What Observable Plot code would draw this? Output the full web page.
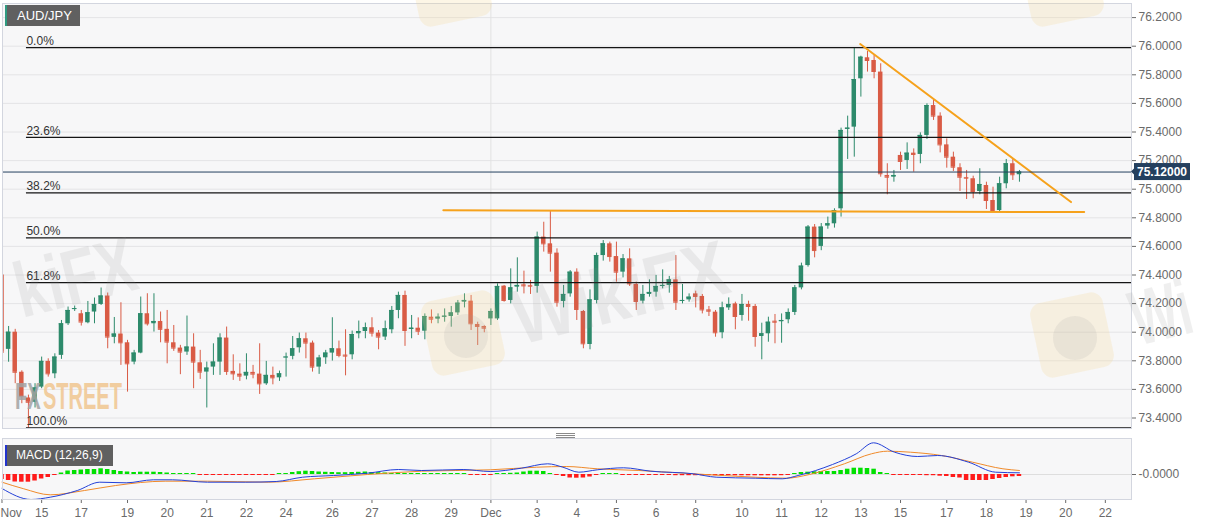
<!DOCTYPE html>
<html><head><meta charset="utf-8">
<script src="https://cdn.jsdelivr.net/npm/d3@7"></script>
<script src="https://cdn.jsdelivr.net/npm/@observablehq/plot@0.6"></script>
<style>
body{margin:0;background:#fff;font-family:"Liberation Sans",Arial,sans-serif;}
#wrap{position:relative;width:1207px;height:526px;overflow:hidden;background:#fff;}
#wrap > svg, #wrap > figure{display:block;margin:0;}
.tag{position:absolute;background:#606060;color:#fff;font-size:13px;height:21px;line-height:21px;box-sizing:border-box;}
#over{position:absolute;left:0;top:0;pointer-events:none;}
</style></head><body><div id="wrap"></div>
<script>
// ---------------- DATA (4-hour candles, AUD/JPY) ----------------
const opens = [74.40,73.88,74.00,73.72,73.54,73.51,73.616,73.796,73.709,73.838,
74.059,74.160,74.129,74.066,74.141,74.194,74.253,73.964,73.987,73.926,
73.791,73.854,74.129,74.059,74.075,74.020,73.926,73.889,73.861,73.896,
73.786,73.721,73.756,73.791,73.959,73.726,73.707,73.693,73.719,73.707,
73.639,73.698,73.681,73.822,73.831,73.891,73.954,73.924,73.756,73.821,
73.854,73.884,73.840,73.842,73.989,74.005,74.031,73.994,73.966,74.017,
74.152,74.257,74.019,74.028,74.007,74.105,74.091,74.105,74.110,74.135,
74.210,74.217,74.054,74.040,74.093,74.093,74.322,74.222,74.315,74.331,
74.327,74.320,74.665,74.618,74.553,74.215,74.268,74.420,74.145,73.914,
74.222,74.536,74.618,74.529,74.420,74.513,74.334,74.217,74.264,74.280,
74.320,74.327,74.366,74.215,74.226,74.268,74.250,74.156,74.140,73.996,
74.170,74.198,74.117,74.194,74.180,73.970,73.989,74.077,74.073,74.087,
74.138,74.310,74.466,74.735,74.600,74.742,74.758,74.863,75.418,75.434,
75.772,75.919,75.900,75.819,75.096,75.084,75.236,75.201,75.252,75.243,
75.376,75.585,75.511,75.310,75.224,75.150,75.082,75.073,74.984,75.026,
74.921,74.851,75.038,75.178,75.101];
const highs = [74.41,74.04,74.02,73.73,73.56,73.64,73.826,73.814,73.849,74.082,
74.176,74.183,74.152,74.215,74.239,74.309,74.274,74.103,74.206,73.943,
73.873,74.246,74.269,74.269,74.141,74.152,74.047,73.908,74.113,73.989,
73.873,73.791,73.919,73.989,74.036,73.842,73.779,73.849,73.768,73.919,
73.796,73.756,73.728,73.854,73.970,73.994,73.994,73.938,73.838,73.873,
74.101,73.938,74.017,74.008,74.078,74.064,74.101,74.012,74.078,74.180,
74.280,74.287,74.117,74.100,74.128,74.156,74.128,74.163,74.180,74.222,
74.268,74.257,74.070,74.045,74.163,74.338,74.327,74.443,74.520,74.427,
74.362,74.700,74.769,74.850,74.583,74.327,74.431,74.443,74.152,74.296,
74.553,74.641,74.630,74.630,74.543,74.583,74.350,74.327,74.366,74.397,
74.436,74.390,74.536,74.334,74.268,74.287,74.264,74.180,74.152,74.210,
74.240,74.210,74.264,74.217,74.194,74.063,74.105,74.124,74.128,74.163,
74.327,74.483,74.746,74.753,74.760,74.805,74.863,75.427,75.511,75.986,
75.930,75.963,75.935,75.877,75.178,75.131,75.259,75.324,75.282,75.394,
75.597,75.627,75.534,75.352,75.259,75.178,75.131,75.091,75.143,75.049,
75.014,75.084,75.208,75.213,75.131];
const lows = [73.84,73.79,73.64,73.50,73.33,73.47,73.605,73.686,73.675,73.810,
74.047,74.145,74.043,74.059,74.059,74.187,73.884,73.919,73.768,73.581,
73.772,73.849,74.043,74.001,73.926,73.779,73.866,73.703,73.838,73.605,
73.670,73.470,73.698,73.698,73.698,73.663,73.656,73.667,73.674,73.565,
73.628,73.632,73.656,73.686,73.807,73.854,73.814,73.721,73.705,73.775,
73.798,73.821,73.695,73.807,73.954,73.954,73.966,73.877,73.942,73.989,
74.094,73.901,73.954,73.977,73.947,74.059,74.059,74.070,74.035,74.117,
74.170,74.012,73.907,73.996,74.047,74.082,74.210,74.198,74.280,74.268,
74.264,74.273,74.560,74.420,74.175,74.170,74.245,74.082,73.884,73.877,
74.198,74.497,74.490,74.350,74.380,74.320,74.152,74.198,74.245,74.245,
74.303,74.273,74.152,74.198,74.210,74.170,74.128,74.110,73.965,73.954,
74.152,74.017,74.077,74.077,73.895,73.807,73.930,73.919,73.923,74.059,
74.117,74.296,74.455,74.520,74.570,74.720,74.728,74.805,75.208,75.224,
75.644,75.819,75.772,75.084,74.961,75.049,75.131,75.138,75.119,75.178,
75.348,75.481,75.254,75.147,75.124,74.984,74.928,74.933,74.961,74.858,
74.840,74.844,75.003,75.061,75.049];
const closes = [73.86,74.00,73.72,73.55,73.51,73.61,73.796,73.709,73.826,74.059,
74.152,74.165,74.071,74.136,74.194,74.253,73.966,73.987,73.926,73.779,
73.854,74.129,74.059,74.075,74.020,73.931,73.889,73.861,73.896,73.791,
73.721,73.749,73.791,73.959,73.726,73.709,73.693,73.719,73.707,73.639,
73.698,73.681,73.709,73.826,73.884,73.954,73.924,73.756,73.819,73.854,
73.884,73.838,73.833,73.984,74.005,74.031,73.994,73.966,74.024,74.152,
74.257,74.012,74.028,74.007,74.110,74.091,74.105,74.112,74.135,74.203,
74.222,74.059,74.040,74.028,74.145,74.320,74.222,74.310,74.327,74.324,
74.322,74.665,74.618,74.553,74.210,74.264,74.420,74.159,73.919,74.226,
74.536,74.618,74.529,74.420,74.513,74.338,74.215,74.264,74.278,74.320,
74.327,74.366,74.210,74.222,74.245,74.250,74.156,74.147,73.996,74.170,
74.194,74.110,74.194,74.180,73.970,73.989,74.070,74.070,74.082,74.138,
74.310,74.462,74.735,74.571,74.735,74.758,74.851,75.411,75.427,75.767,
75.923,75.900,75.823,75.108,75.084,75.096,75.194,75.252,75.243,75.376,
75.585,75.511,75.310,75.224,75.154,75.084,75.077,74.984,75.033,74.921,
74.851,75.038,75.178,75.101,75.120];

// x-axis ticks (bar index -> label)
const tickIdx    = [0,6,12,19,25,31,37,43,50,56,62,68,74,81,87,93,99,105,112,118,124,130,136,143,149,155,161,167];
const tickLabels = ["Nov","15","17","19","20","21","22","24","26","27","28","29","Dec","3","4","5","6","8","10","11","12","13","15","17","18","19","20","22"];
const yTicks = [73.4,73.6,73.8,74.0,74.2,74.4,74.6,74.8,75.0,75.2,75.4,75.6,75.8,76.0,76.2];

// Fibonacci retracement
const fibHigh = 75.99, fibLow = 73.33, fibStartIdx = 3.7;
const fibRatios = [0, 0.236, 0.382, 0.5, 0.618, 1];
const fibLabels = ["0.0%","23.6%","38.2%","50.0%","61.8%","100.0%"];

// trend lines (bar index, price)
const supportIdx = [66.8, 163.8], supportVal = [74.853, 74.840];
const resistIdx  = [129.9, 161.8], resistVal = [76.015, 74.910];
const lastPrice = 75.12;

// MACD (12,26,9)
const macdIdx = [0,4.4,7.3,11.4,14.8,18.8,22.9,25.8,31.1,36.9,41.5,45.5,50.2,55.3,60,63.5,69.8,73.9,78.6,82.6,84.9,87.3,90.1,94.1,98.2,104.7,108.1,114,118.1,120.5,125.7,129.3,131.9,135.1,138.6,141.6,146.3,150.4,154];
const macdVal = [-0.14,-0.25,-0.227,-0.16,-0.077,-0.083,-0.053,-0.053,-0.077,-0.077,-0.07,-0.027,-0.01,0.013,0.05,0.04,0.05,0.03,0.063,0.107,0.073,0.023,0.047,0.067,0.033,0.007,-0.027,-0.037,-0.043,-0.01,0.10,0.207,0.317,0.223,0.18,0.19,0.123,0.023,0.017];
const signalIdx = [0,3.3,7.3,12.5,17.2,24.7,31.1,40.3,47.3,55.3,63.5,73.9,80.9,85.4,90.1,96.4,104.7,114,118.7,122.2,127.5,131.6,134,137.5,142.2,146.9,151.5,154];
const signalVal = [-0.077,-0.143,-0.203,-0.16,-0.11,-0.067,-0.067,-0.077,-0.043,0,0.033,0.047,0.073,0.08,0.057,0.04,0.007,-0.027,-0.037,0,0.107,0.207,0.233,0.223,0.19,0.123,0.057,0.04];
const histVal = [-0.05,-0.06,-0.075,-0.077,-0.077,-0.065,-0.045,-0.03,-0.01,0.015,
0.035,0.04,0.045,0.05,0.05,0.057,0.05,0.04,0.03,0.025,
0.02,0.023,0.023,0.023,0.02,0.015,0.01,0.01,0.01,0.01,
-0.01,-0.01,-0.01,-0.01,-0.01,-0.01,-0.01,-0.01,-0.01,-0.01,
-0.01,-0.01,0.01,0.01,0.02,0.028,0.033,0.03,0.025,0.022,
0.02,0.018,0.018,0.02,0.022,0.025,0.02,0.018,0.015,0.01,
0.01,0.01,0.01,0.01,0.01,0.01,0.01,0.01,0.01,0.01,
0.01,-0.01,-0.01,-0.01,-0.01,0.01,0.01,0.012,0.015,0.025,
0.033,0.033,0.03,0.01,-0.01,-0.02,-0.035,-0.037,-0.035,-0.025,
-0.01,0.01,0.01,0.01,-0.01,-0.01,-0.01,-0.01,-0.01,-0.01,
-0.01,-0.01,-0.012,-0.012,-0.012,-0.012,-0.012,-0.012,-0.012,-0.012,
-0.012,-0.013,-0.013,-0.013,-0.013,-0.013,-0.013,-0.013,-0.012,-0.01,
0.01,0.02,0.023,0.027,0.03,0.03,0.03,0.04,0.053,0.063,
0.063,0.06,0.053,0.02,0.01,-0.01,-0.01,-0.01,-0.01,-0.01,
-0.012,-0.012,-0.017,-0.02,-0.03,-0.035,-0.06,-0.06,-0.06,-0.06,
-0.05,-0.04,-0.03,-0.023,-0.02];

// ---------------- STYLE ----------------
const FONT = '"Liberation Sans", Arial, sans-serif';
const GREEN = "#2d8a6b", RED = "#d95b45", NAVY = "#24405f", ORANGE = "#f6a21c";
const xDomain = [0.0757, 170.96];

const candles = closes.map((c, i) => ({i, o: opens[i], h: highs[i], l: lows[i], c, up: c >= opens[i]}));
const ups = candles.filter(d => d.up), downs = candles.filter(d => !d.up);
const fibs = fibRatios.map((r, k) => ({v: fibHigh - r * (fibHigh - fibLow), label: fibLabels[k]}));
const support = supportIdx.map((x, k) => ({x, v: supportVal[k]}));
const resist = resistIdx.map((x, k) => ({x, v: resistVal[k]}));
const decIdx = tickIdx[tickLabels.indexOf("Dec")];
const hw = 0.34;

const candleMarks = (data, col) => [
  Plot.ruleX(data, {x: "i", y1: "l", y2: "h", stroke: col, strokeWidth: 1, clip: true}),
  Plot.rect(data, {x1: d => d.i - hw, x2: d => d.i + hw, y1: "o", y2: "c", fill: col, clip: true}),
  Plot.ruleY(data, {y: "c", x1: d => d.i - hw, x2: d => d.i + hw, stroke: col, clip: true})
];

const main = Plot.plot({
  width: 1207, height: 433,
  marginLeft: 2, marginRight: 76, marginTop: 3, marginBottom: 5,
  style: {background: "transparent", fontFamily: FONT, fontSize: "12px", color: "#6a6a6a", overflow: "visible"},
  x: {domain: xDomain, axis: null},
  y: {domain: [73.3266, 76.2986], axis: "right", ticks: yTicks, tickFormat: d => d.toFixed(4), tickSize: 4, tickPadding: 3, label: null},
  marks: [
    Plot.frame({fill: "#f7f7f8"}),
    Plot.ruleY(yTicks, {stroke: "#e4e4e6"}),
    Plot.ruleX([decIdx], {stroke: "#e2e2e2"}),
    ...candleMarks(ups, GREEN),
    ...candleMarks(downs, RED),
    Plot.ruleY(fibs, {y: "v", x1: () => fibStartIdx, x2: () => xDomain[1], stroke: "#151515", strokeWidth: 1.3}),
    Plot.text(fibs, {x: () => fibStartIdx, y: "v", text: "label", textAnchor: "start", dy: -6.5, fill: "#333", fontSize: 12}),
    Plot.line(support, {x: "x", y: "v", stroke: ORANGE, strokeWidth: 2}),
    Plot.line(resist, {x: "x", y: "v", stroke: ORANGE, strokeWidth: 2}),
    Plot.ruleY([lastPrice], {stroke: NAVY, strokeWidth: 1}),
    Plot.frame({stroke: "#d3d6df"}),
    (index, scales, values, dims) => {
      const y = scales.y(lastPrice);
      const x0 = dims.width - dims.marginRight;
      const g = d3.create("svg:g");
      g.append("path").attr("d", `M${x0} ${y} L${x0 + 5} ${y - 5} L${x0 + 5} ${y + 5} Z`).attr("fill", NAVY);
      g.append("rect").attr("x", x0 + 3).attr("y", y - 8.5).attr("width", 56).attr("height", 17).attr("fill", NAVY);
      g.append("text").attr("x", x0 + 31).attr("y", y + 4.5).attr("text-anchor", "middle")
        .attr("fill", "#fff").attr("font-weight", "bold").attr("font-size", 12).attr("font-family", FONT)
        .text(lastPrice.toFixed(5));
      return g.node();
    }
  ]
});

const hist = histVal.map((v, i) => ({i, v}));
const macdPts = macdIdx.map((x, k) => ({x, v: macdVal[k]}));
const sigPts = signalIdx.map((x, k) => ({x, v: signalVal[k]}));
const labelOf = new Map(tickIdx.map((t, k) => [t, tickLabels[k]]));

const macd = Plot.plot({
  width: 1207, height: 93,
  marginLeft: 2, marginRight: 76, marginTop: 5, marginBottom: 27,
  style: {background: "transparent", fontFamily: FONT, fontSize: "12px", color: "#6a6a6a", overflow: "visible"},
  x: {domain: xDomain, ticks: tickIdx, tickFormat: d => (d === 0 ? "" : labelOf.get(d)), tickSize: 4, tickPadding: 5, label: null},
  y: {domain: [-0.25, 0.36], axis: "right", ticks: [0], tickFormat: () => "-0.0000", tickSize: 4, tickPadding: 3, label: null},
  marks: [
    Plot.frame({fill: "#f7f7f8"}),
    Plot.ruleY([0], {stroke: "#dedede"}),
    Plot.ruleX([decIdx], {stroke: "#e0e0e0"}),
    Plot.rect(hist.filter(d => d.v >= 0), {x1: d => d.i - hw, x2: d => d.i + hw, y1: 0, y2: "v", fill: "#00e000", clip: true}),
    Plot.rect(hist.filter(d => d.v < 0), {x1: d => d.i - hw, x2: d => d.i + hw, y1: 0, y2: "v", fill: "#ff1a1a", clip: true}),
    Plot.line(sigPts, {x: "x", y: "v", stroke: "#f08a2a", strokeWidth: 1, curve: "monotone-x"}),
    Plot.line(macdPts, {x: "x", y: "v", stroke: "#2340d8", strokeWidth: 1, curve: "monotone-x"}),
    Plot.text([tickLabels[0]], {x: () => tickIdx[0], y: () => -0.25, text: d => d, textAnchor: "start", dx: -1.5, dy: 14, fill: "#6a6a6a", fontSize: 12}),
    Plot.frame({stroke: "#d3d6df"})
  ]
});

const wrap = document.getElementById("wrap");
wrap.appendChild(main);
wrap.appendChild(macd);

// overlays: tags, pane handle, watermarks
const t1 = document.createElement("div");
t1.className = "tag"; t1.textContent = "AUD/JPY";
Object.assign(t1.style, {left: "5px", top: "5px", width: "75px", paddingLeft: "10px", borderLeft: "2px solid #2f9a80"});
wrap.appendChild(t1);
const t2 = document.createElement("div");
t2.className = "tag"; t2.textContent = "MACD (12,26,9)";
Object.assign(t2.style, {left: "5px", top: "445px", width: "108px", paddingLeft: "9px", fontSize: "12px", borderLeft: "2px solid #2233cc"});
wrap.appendChild(t2);

const over = d3.select(wrap).append("svg").attr("id", "over").attr("width", 1207).attr("height", 526);
// pane resize handle
[433.5, 435.5, 437.5].forEach(y => over.append("line").attr("x1", 556).attr("x2", 575).attr("y1", y).attr("y2", y).attr("stroke", "#8a8a8a").attr("stroke-width", 1));
// watermark logos
[[463, 333], [1072, 335], [450, -16], [1062, -16]].forEach(([cx, cy]) =>
  over.append("rect").attr("x", cx - 37).attr("y", cy - 38).attr("width", 74).attr("height", 76).attr("rx", 12)
    .attr("transform", `rotate(-12 ${cx} ${cy})`).attr("fill", "#f6d68c").attr("opacity", 0.22));
[[466, 336], [1075, 338]].forEach(([cx, cy]) =>
  over.append("circle").attr("cx", cx).attr("cy", cy).attr("r", 22).attr("fill", "#9a9a9a").attr("opacity", 0.14));
// WikiFX watermark texts (full one in the middle, fragments at the edges)
[[520, 345, "WikiFX", 66], [22, 318, "kiFX", 58], [1138, 346, "Wi", 50]].forEach(([x, y, t, fs]) =>
  over.append("text").attr("font-size", fs).attr("font-weight", "bold").attr("font-family", FONT)
    .attr("transform", `translate(${x},${y}) rotate(-14) scale(1,${(78 / fs).toFixed(3)})`)
    .attr("fill", "#8c8c8c").attr("opacity", 0.13).text(t));
// FXSTREET watermark
over.append("text").attr("font-size", 20).attr("font-weight", "bold").attr("font-family", FONT)
  .attr("transform", "translate(15,409) scale(1,1.8)").attr("fill", "#a3a3a3").attr("opacity", 0.85).text("FX");
over.append("text").attr("font-size", 20).attr("font-weight", "bold").attr("font-family", FONT)
  .attr("transform", "translate(43,409) scale(1,1.8)").attr("fill", "#f1c690").attr("opacity", 0.85).text("STREET");
</script></body></html>
